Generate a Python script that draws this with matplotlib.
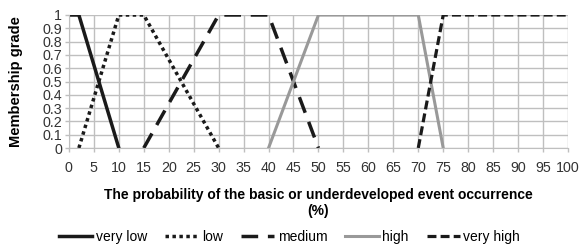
import numpy as np
import matplotlib.pyplot as plt

# membership functions (x in %, membership grade)
vlow_x = [0, 2, 10]
vlow_y = [1, 1, 0]
low_x = [2, 10, 15, 30]
low_y = [0, 1, 1, 0]
med_x = [15, 30, 40, 50]
med_y = [0, 1, 1, 0]
high_x = [40, 50, 70, 75]
high_y = [0, 1, 1, 0]
vhigh_x = [70, 75, 100]
vhigh_y = [0, 1, 1]

plt.rcParams['font.family'] = 'Liberation Sans'

fig = plt.figure(figsize=(5.79, 2.5), dpi=100)
ax = fig.add_axes([0.119, 0.408, 0.862, 0.532])

ax.plot(vlow_x, vlow_y, color='#1a1a1a', lw=2.5, linestyle='-', label='very low')
ax.plot(low_x, low_y, color='#1a1a1a', lw=2.5, linestyle=(0, (1, 1)), label='low')
ax.plot(med_x, med_y, color='#1a1a1a', lw=2.5, linestyle=(0, (4.8, 2.8)), label='medium')
ax.plot(high_x, high_y, color='#999999', lw=2.2, linestyle='-', label='high')
ax.plot(vhigh_x, vhigh_y, color='#1a1a1a', lw=2.3, linestyle=(0, (2.8, 1.3)), label='very high')

ax.set_xlim(0, 100)
ax.set_ylim(0, 1)
ax.set_xticks(np.arange(0, 101, 5))
ax.set_yticks(np.arange(0, 1.01, 0.1))
ax.set_yticklabels(['0', '0.1', '0.2', '0.3', '0.4', '0.5', '0.6', '0.7', '0.8', '0.9', '1'])
ax.grid(True, color='#bfbfbf', lw=1)
ax.set_axisbelow(True)
for s in ['top', 'right']:
    ax.spines[s].set_visible(False)
ax.spines['left'].set_color('#bfbfbf')
ax.spines['bottom'].set_color('#bfbfbf')
ax.tick_params(length=3, width=1, color='#bfbfbf', labelsize=10.3, labelcolor='#333333')
ax.tick_params(axis='x', pad=6)
ax.tick_params(axis='y', pad=2)

ax.set_ylabel('Membership grade', fontsize=10.5, fontweight='bold', labelpad=14)
ax.set_xlabel('The probability of the basic or underdeveloped event occurrence\n(%)',
              fontsize=10, fontweight='bold', labelpad=10, linespacing=1.15)

fig.legend(*ax.get_legend_handles_labels(), loc='center', bbox_to_anchor=(0.5, 0.052),
           ncol=5, frameon=False, fontsize=10, handlelength=2.4, handletextpad=0.25,
           columnspacing=1.3, borderaxespad=0)

plt.savefig('out.png', dpi=100)
plt.close()
